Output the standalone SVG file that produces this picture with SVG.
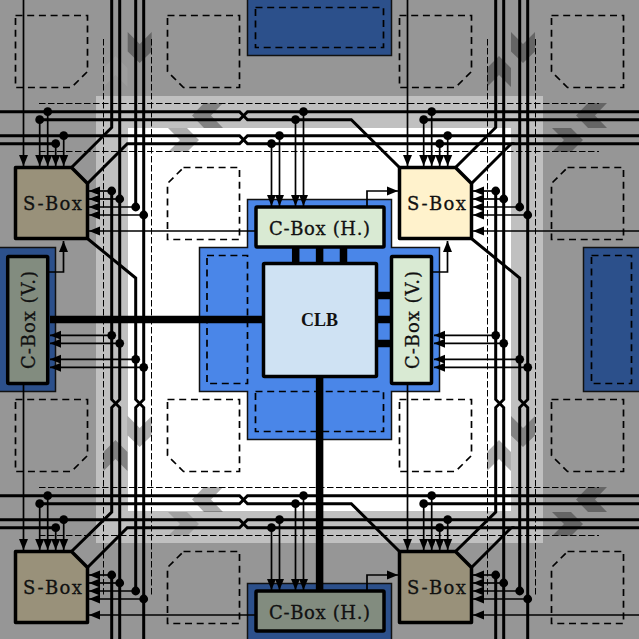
<svg xmlns="http://www.w3.org/2000/svg" width="639" height="639" viewBox="0 0 639 639">
<style>
.w{fill:none;stroke:#000;stroke-width:3}
.t{fill:none;stroke:#000;stroke-width:1.7;marker-end:url(#ah)}
.tk{fill:none;stroke:#000;stroke-width:7.5}
.st{fill:none;stroke:#000;stroke-width:7.5}
.d{fill:none;stroke:#000;stroke-width:1.7;stroke-dasharray:7 4.7}
.dl{fill:none;stroke:#000;stroke-width:1;stroke-dasharray:6.5 2.5}
.dot{fill:#000}
.n{stroke:#000;stroke-width:3.5;stroke-linejoin:round}
.lb{font-family:"DejaVu Serif","Liberation Serif",serif;font-size:18px;fill:#111;stroke:#111;stroke-width:.3;text-anchor:middle}
.clb{font-family:"Liberation Serif",serif;font-size:18px;font-weight:bold;fill:#111;text-anchor:middle}
.ch{fill:#000;opacity:.32}
</style>
<defs>
<marker id="ah" markerUnits="userSpaceOnUse" markerWidth="12" markerHeight="10" refX="11" refY="5" orient="auto"><path d="M0,0.5 L11,5 L0,9.5 Z" fill="#000"/></marker>
<polygon id="cd" points="0,32 12,44 24,32 24,51.5 12,63 0,51.5"/>
<polygon id="cu" points="0,87 12,75 24,87 24,68 12,56 0,68"/>
<polygon id="cl" points="31,103 19,115.5 31,128 12,128 0,115.5 12,103"/>
<polygon id="cr" points="0,128 12,140 0,152 19,152 31,140 19,128"/>
</defs>
<g id="background">
<rect width="639" height="639" fill="#969696"/>
<rect x="96" y="96" width="447" height="447" fill="#c0c0c0"/>
<rect x="128" y="128" width="383" height="383" fill="#fff"/>
</g>
<g id="chevrons">
<use href="#cd" x="127.7" class="ch"/>
<use href="#cd" x="511" class="ch"/>
<use href="#cd" x="127.7" y="384" class="ch"/>
<use href="#cd" x="511" y="384" class="ch"/>
<use href="#cu" x="103.5" fill="#fff" opacity=".07"/>
<use href="#cu" x="487" class="ch"/>
<use href="#cu" x="103.5" y="384" class="ch"/>
<use href="#cu" x="487" y="384" class="ch"/>
<use href="#cl" x="192" class="ch"/>
<use href="#cl" x="576" class="ch"/>
<use href="#cl" x="192" y="384" class="ch"/>
<use href="#cl" x="576" y="384" class="ch"/>
<use href="#cr" x="168" class="ch"/>
<use href="#cr" x="552" class="ch"/>
<use href="#cr" x="168" y="384" fill="#000" opacity=".16"/>
<use href="#cr" x="552" y="384" class="ch"/>
</g>
<g id="cells">
<path id="cell-1" class="d" d="M15.5,15.5H87.5V71.5L71.5,87.5H15.5Z"/>
<path id="cell-2" class="d" d="M167.5,15.5H239.5V87.5H183.5L167.5,71.5Z"/>
<path id="cell-3" class="d" d="M399.5,15.5H471.5V71.5L455.5,87.5H399.5Z"/>
<path id="cell-4" class="d" d="M551.5,15.5H623.5V87.5H567.5L551.5,71.5Z"/>
<path id="cell-5" class="d" d="M183.5,167.5H239.5V239.5H167.5V183.5Z"/>
<path id="cell-6" class="d" d="M567.5,167.5H623.5V239.5H551.5V183.5Z"/>
<path id="cell-7" class="d" d="M15.5,399.5H87.5V455.5L71.5,471.5H15.5Z"/>
<path id="cell-8" class="d" d="M167.5,399.5H239.5V471.5H183.5L167.5,455.5Z"/>
<path id="cell-9" class="d" d="M399.5,399.5H471.5V455.5L455.5,471.5H399.5Z"/>
<path id="cell-10" class="d" d="M551.5,399.5H623.5V471.5H567.5L551.5,455.5Z"/>
<path id="cell-11" class="d" d="M183.5,551.5H239.5V623.5H167.5V567.5Z"/>
<path id="cell-12" class="d" d="M567.5,551.5H623.5V623.5H551.5V567.5Z"/>
</g>
<g id="blocks" stroke="#111" stroke-width="1.5">
<polygon id="block-centre" fill="#4a86e8" points="247.5,199.5 391.5,199.5 391.5,247.5 439.5,247.5 439.5,391.5 391.5,391.5 391.5,439.5 247.5,439.5 247.5,391.5 199.5,391.5 199.5,247.5 247.5,247.5"/>
<rect id="block-top" fill="#2c508b" x="247.5" y="-2" width="144" height="57.5"/>
<rect id="block-bottom" fill="#2c508b" x="247.5" y="583.5" width="144" height="58"/>
<rect id="block-left" fill="#2c508b" x="-2" y="247.5" width="57.5" height="144"/>
<rect id="block-right" fill="#2c508b" x="583.5" y="247.5" width="58" height="144"/>
<rect class="d" x="207" y="255.5" width="40.5" height="128"/>
<rect class="d" x="255.5" y="391.5" width="128" height="40"/>
<rect class="d" x="255.5" y="7.5" width="128" height="40"/>
<rect class="d" x="591.5" y="255.5" width="40" height="128"/>
</g>
<g id="guides">
<path class="dl" d="M39,103.5H599M39,151.5H599M39,487.5H599M39,535.5H599"/>
<path class="dl" d="M103.5,39V597M151.5,39V597M487.5,39V597M535.5,39V597"/>
</g>
<g id="connectors">
<g id="tracks">
<path class="w" d="M111.7,0V127.5L72,167"/>
<path class="w" d="M111.7,191V399.5L119.7,407.5V639"/>
<path class="w" d="M119.7,0V399.5L111.7,407.5V512L72,551"/>
<path class="w" d="M111.7,575V639"/>
<path class="w" d="M135.7,0V207"/>
<path class="w" d="M88,239L135.7,278V399.5L143.7,407.5V639"/>
<path class="w" d="M143.7,0V399.5L135.7,407.5V591"/>
<path class="w" d="M495.7,0V127.5L456,167"/>
<path class="w" d="M495.7,191V399.5L503.7,407.5V639"/>
<path class="w" d="M503.7,0V399.5L495.7,407.5V512L456,551"/>
<path class="w" d="M495.7,575V639"/>
<path class="w" d="M519.7,0V207"/>
<path class="w" d="M472,239L519.7,278V399.5L527.7,407.5V639"/>
<path class="w" d="M527.7,0V399.5L519.7,407.5V591"/>
<path class="w" d="M0,111.7H239.5L247.5,119.7H351.3L399,167"/>
<path class="w" d="M39.7,119.7H239.5L247.5,111.7H639"/>
<path class="w" d="M423,119.7H639"/>
<path class="w" d="M0,135.7H239.5L247.5,143.7H511.3L472,183"/>
<path class="w" d="M0,143.7H55.7"/>
<path class="w" d="M88,183L127.3,143.7H239.5L247.5,135.7H639"/>
<path class="w" d="M511.3,143.7H639"/>
<path class="w" d="M0,495.7H239.5L247.5,503.7H351.3L399,551"/>
<path class="w" d="M39.7,503.7H239.5L247.5,495.7H639"/>
<path class="w" d="M423,503.7H639"/>
<path class="w" d="M0,519.7H239.5L247.5,527.7H511.3L472,567"/>
<path class="w" d="M0,527.7H55.7"/>
<path class="w" d="M88,567L127.3,527.7H239.5L247.5,519.7H639"/>
<path class="w" d="M511.3,527.7H639"/>
</g>
<g id="thick-links">
<path class="tk" d="M50,319.6H263"/>
<path class="tk" d="M319.6,377V590"/>
<path class="st" d="M295.7,248V262M319.6,248V262M343.5,248V262M378,295.6H390M378,319.6H390M378,343.6H390"/>
</g>
<g id="taps">
<path class="t" d="M23.5,0V166"/>
<path class="t" d="M39.7,119.7V166"/>
<path class="t" d="M47.7,111.7V166"/>
<path class="t" d="M55.7,143.7V166"/>
<path class="t" d="M63.7,135.7V166"/>
<path class="t" d="M407.5,0V166"/>
<path class="t" d="M423.7,119.7V166"/>
<path class="t" d="M431.7,111.7V166"/>
<path class="t" d="M439.7,143.7V166"/>
<path class="t" d="M447.7,135.7V166"/>
<path class="t" d="M23.5,385V550"/>
<path class="t" d="M39.7,503.7V550"/>
<path class="t" d="M47.7,495.7V550"/>
<path class="t" d="M55.7,527.7V550"/>
<path class="t" d="M63.7,519.7V550"/>
<path class="t" d="M407.5,385V550"/>
<path class="t" d="M423.7,503.7V550"/>
<path class="t" d="M431.7,495.7V550"/>
<path class="t" d="M439.7,527.7V550"/>
<path class="t" d="M447.7,519.7V550"/>
<path class="t" d="M111.7,191H89"/>
<path class="t" d="M119.7,199H89"/>
<path class="t" d="M135.7,207H89"/>
<path class="t" d="M143.7,215H89"/>
<path class="t" d="M255,231H89"/>
<path class="t" d="M495.7,191H473"/>
<path class="t" d="M503.7,199H473"/>
<path class="t" d="M519.7,207H473"/>
<path class="t" d="M527.7,215H473"/>
<path class="t" d="M639,231H473"/>
<path class="t" d="M111.7,575H89"/>
<path class="t" d="M119.7,583H89"/>
<path class="t" d="M135.7,591H89"/>
<path class="t" d="M143.7,599H89"/>
<path class="t" d="M255,615H89"/>
<path class="t" d="M495.7,575H473"/>
<path class="t" d="M503.7,583H473"/>
<path class="t" d="M519.7,591H473"/>
<path class="t" d="M527.7,599H473"/>
<path class="t" d="M639,615H473"/>
<path class="t" d="M111.7,335.3H50"/>
<path class="t" d="M119.7,343.3H50"/>
<path class="t" d="M135.7,359.3H50"/>
<path class="t" d="M143.7,367.3H50"/>
<path class="t" d="M495.7,335.3H434"/>
<path class="t" d="M503.7,343.3H434"/>
<path class="t" d="M519.7,359.3H434"/>
<path class="t" d="M527.7,367.3H434"/>
<path class="t" d="M271.5,143.7V206"/>
<path class="t" d="M279.5,135.7V206"/>
<path class="t" d="M295.5,119.7V206"/>
<path class="t" d="M303.5,111.7V206"/>
<path class="t" d="M271.5,527.7V590"/>
<path class="t" d="M279.5,519.7V590"/>
<path class="t" d="M295.5,503.7V590"/>
<path class="t" d="M303.5,495.7V590"/>
<path class="t" d="M49,272H63.5V241"/>
<path class="t" d="M433,272H447.5V241"/>
<path class="t" d="M367,207V191H398"/>
<path class="t" d="M367,591V575H398"/>
</g>
<g id="dots" class="dot">
<circle cx="39.7" cy="119.7" r="4.4"/><circle cx="47.7" cy="111.7" r="4.4"/><circle cx="55.7" cy="143.7" r="4.4"/><circle cx="63.7" cy="135.7" r="4.4"/>
<circle cx="423.7" cy="119.7" r="4.4"/><circle cx="431.7" cy="111.7" r="4.4"/><circle cx="439.7" cy="143.7" r="4.4"/><circle cx="447.7" cy="135.7" r="4.4"/>
<circle cx="39.7" cy="503.7" r="4.4"/><circle cx="47.7" cy="495.7" r="4.4"/><circle cx="55.7" cy="527.7" r="4.4"/><circle cx="63.7" cy="519.7" r="4.4"/>
<circle cx="423.7" cy="503.7" r="4.4"/><circle cx="431.7" cy="495.7" r="4.4"/><circle cx="439.7" cy="527.7" r="4.4"/><circle cx="447.7" cy="519.7" r="4.4"/>
<circle cx="111.7" cy="191" r="4.4"/><circle cx="119.7" cy="199" r="4.4"/><circle cx="135.7" cy="207" r="4.4"/><circle cx="143.7" cy="215" r="4.4"/>
<circle cx="495.7" cy="191" r="4.4"/><circle cx="503.7" cy="199" r="4.4"/><circle cx="519.7" cy="207" r="4.4"/><circle cx="527.7" cy="215" r="4.4"/>
<circle cx="111.7" cy="575" r="4.4"/><circle cx="119.7" cy="583" r="4.4"/><circle cx="135.7" cy="591" r="4.4"/><circle cx="143.7" cy="599" r="4.4"/>
<circle cx="495.7" cy="575" r="4.4"/><circle cx="503.7" cy="583" r="4.4"/><circle cx="519.7" cy="591" r="4.4"/><circle cx="527.7" cy="599" r="4.4"/>
<circle cx="111.7" cy="335.3" r="4.4"/><circle cx="119.7" cy="343.3" r="4.4"/><circle cx="135.7" cy="359.3" r="4.4"/><circle cx="143.7" cy="367.3" r="4.4"/>
<circle cx="495.7" cy="335.3" r="4.4"/><circle cx="503.7" cy="343.3" r="4.4"/><circle cx="519.7" cy="359.3" r="4.4"/><circle cx="527.7" cy="367.3" r="4.4"/>
<circle cx="271.5" cy="143.7" r="4.4"/><circle cx="279.5" cy="135.7" r="4.4"/><circle cx="295.5" cy="119.7" r="4.4"/><circle cx="303.5" cy="111.7" r="4.4"/>
<circle cx="271.5" cy="527.7" r="4.4"/><circle cx="279.5" cy="519.7" r="4.4"/><circle cx="295.5" cy="503.7" r="4.4"/><circle cx="303.5" cy="495.7" r="4.4"/>
</g>
</g>
<g id="clb"><rect class="n" x="263.5" y="263.5" width="113" height="113" rx="1" fill="#cfe2f3"/><text class="clb" x="319.6" y="325.5">CLB</text></g>
<g id="cbox-h-top"><rect class="n" x="256" y="207" width="128" height="40" rx="1" fill="#d9ead3"/><text class="lb" x="319.6" y="234.5" textLength="101">C-Box (H.)</text></g>
<g id="cbox-h-bottom"><rect class="n" x="256" y="591" width="128" height="40" rx="1" fill="#828c7f"/><text class="lb" x="319.6" y="618.5" textLength="101">C-Box (H.)</text></g>
<g id="cbox-v-right"><rect class="n" x="391.5" y="256.5" width="40" height="127" rx="1" fill="#d9ead3"/><text class="lb" transform="translate(418.5,320) rotate(-90)" textLength="98">C-Box (V.)</text></g>
<g id="cbox-v-left"><rect class="n" x="7.7" y="256.5" width="40" height="127" rx="1" fill="#828c7f"/><text class="lb" transform="translate(34.7,320) rotate(-90)" textLength="98">C-Box (V.)</text></g>
<g id="sbox-tl"><path class="n" d="M15.5,167.5H71.5L87.5,183.5V238.5H15.5Z" fill="#99917a"/><text class="lb" x="52.5" y="210" textLength="59">S-Box</text></g>
<g id="sbox-tr"><path class="n" d="M399.5,167.5H455.5L471.5,183.5V238.5H399.5Z" fill="#fff2cc"/><text class="lb" x="436.5" y="210" textLength="59">S-Box</text></g>
<g id="sbox-bl"><path class="n" d="M15.5,551.5H71.5L87.5,567.5V622.5H15.5Z" fill="#99917a"/><text class="lb" x="52.5" y="594" textLength="59">S-Box</text></g>
<g id="sbox-br"><path class="n" d="M399.5,551.5H455.5L471.5,567.5V622.5H399.5Z" fill="#99917a"/><text class="lb" x="436.5" y="594" textLength="59">S-Box</text></g>
</svg>
